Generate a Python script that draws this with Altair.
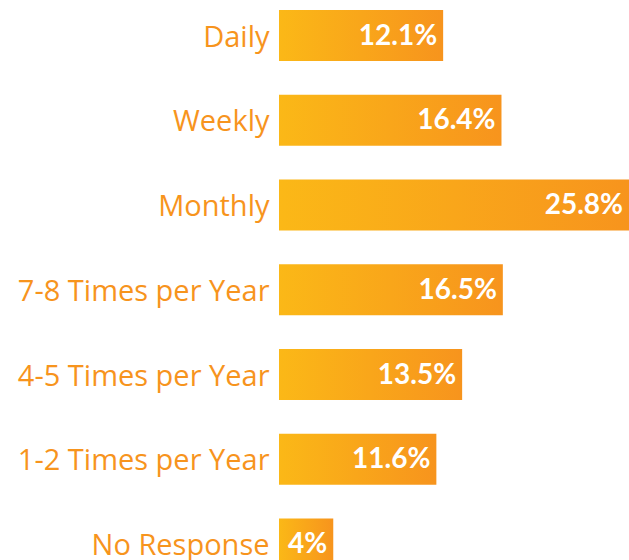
import altair as alt
import pandas as pd

categories = ["Daily", "Weekly", "Monthly", "7-8 Times per Year",
              "4-5 Times per Year", "1-2 Times per Year", "No Response"]
values = [12.1, 16.4, 25.8, 16.5, 13.5, 11.6, 4.0]
value_labels = ["12.1%", "16.4%", "25.8%", "16.5%", "13.5%", "11.6%", "4%"]

df = pd.DataFrame({"cat": categories, "val": values, "lab": value_labels})

ORANGE = "#F7941D"
grad = alt.Gradient(
    gradient="linear",
    stops=[alt.GradientStop(color="#FBB817", offset=0),
           alt.GradientStop(color="#F7941D", offset=1)],
    x1=0, x2=1, y1=0, y2=0,
)

step = 84.75
start = 35.5 - step / 2
y_scale = alt.Scale(domain=categories, range=[start, start + 7 * step],
                    paddingInner=0.4, paddingOuter=0.2)
x_scale = alt.Scale(domain=[0, 25.8], nice=False, zero=True)

base = alt.Chart(df).encode(
    y=alt.Y("cat:N", scale=y_scale, sort=categories,
            axis=alt.Axis(title=None, domain=False, ticks=False,
                          labelColor=ORANGE, labelFontSize=29,
                          labelFont="Open Sans", labelPadding=10,
                          labelOffset=2, labelLimit=400)),
)

bars = base.mark_bar(color=grad, clip=False).encode(
    x=alt.X("val:Q", scale=x_scale, axis=None),
)

texts = base.mark_text(align="right", baseline="middle", dx=-6, dy=1,
                       color="white", font="Lato", fontWeight="bold",
                       fontSize=28).encode(
    x=alt.X("val:Q", scale=x_scale),
    text="lab:N",
)

chart = (bars + texts).properties(
    width=350, height=560,
    autosize=alt.AutoSizeParams(type="none"),
    padding={"left": 279, "top": 0, "right": 0, "bottom": 0},
).configure_view(stroke=None)

chart.save("out.html", embed_options={"renderer": "svg", "actions": False})
